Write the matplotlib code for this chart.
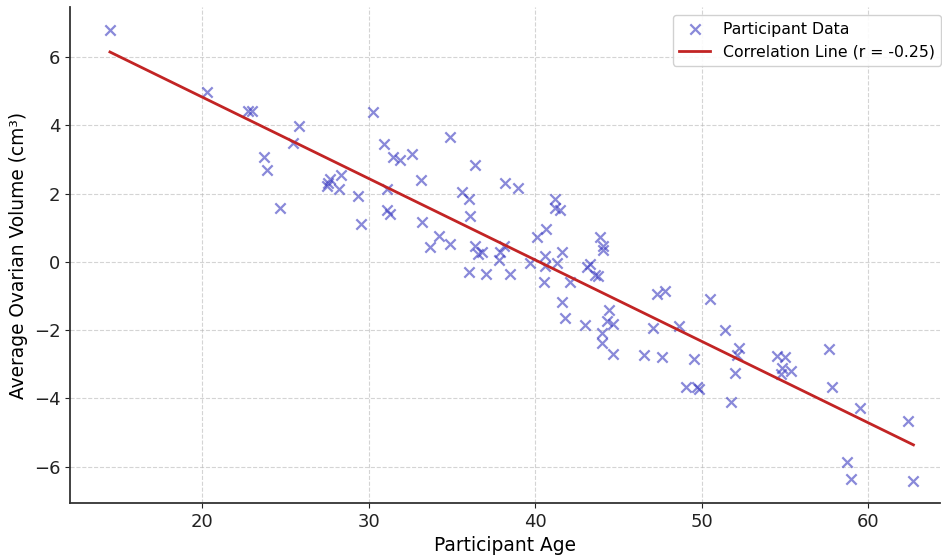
import matplotlib
matplotlib.use("Agg")
import matplotlib.pyplot as plt
import numpy as np

# participant data
age = [14.45, 20.26, 22.77, 22.97, 23.71, 23.91, 24.67, 25.47, 25.81, 27.48,
       27.54, 27.68, 28.18, 28.32, 29.32, 29.54, 30.24, 30.92, 31.08, 31.12,
       31.28, 31.48, 31.88, 32.61, 33.13, 33.19, 33.69, 34.23, 34.89, 34.89,
       35.59, 35.99, 36.09, 35.99, 36.39, 36.35, 36.53, 36.80, 37.01, 37.84,
       37.90, 38.10, 38.16, 38.46, 38.94, 39.70, 40.10, 40.66, 40.56, 40.56,
       40.50, 41.20, 41.20, 41.46, 41.60, 41.30, 42.10, 41.60, 41.77, 43.12,
       43.31, 43.61, 43.75, 43.87, 44.07, 44.07, 43.00, 44.45, 44.31, 44.67,
       44.01, 44.01, 44.65, 46.51, 47.07, 47.32, 47.77, 47.62, 48.61, 49.52,
       49.02, 49.72, 49.86, 50.48, 51.38, 52.26, 52.13, 52.02, 51.76, 54.53,
       54.99, 54.83, 55.37, 54.73, 57.63, 57.84, 59.48, 58.70, 58.94, 62.38,
       62.71]
volume = [6.78, 4.97, 4.41, 4.41, 3.07, 2.70, 1.59, 3.48, 3.98, 2.22,
          2.32, 2.44, 2.12, 2.55, 1.93, 1.12, 4.39, 3.45, 2.14, 1.53,
          1.39, 3.06, 2.97, 3.17, 2.39, 1.17, 0.44, 0.75, 0.52, 3.66,
          2.05, 1.83, 1.34, -0.31, 2.83, 0.46, 0.24, 0.29, -0.35, 0.05,
          0.29, 0.46, 2.32, -0.37, 2.16, -0.03, 0.73, 0.95, 0.16, -0.13,
          -0.59, 1.85, 1.59, 1.51, 0.28, -0.03, -0.59, -1.17, -1.65, -0.16,
          -0.05, -0.39, -0.42, 0.73, 0.47, 0.34, -1.86, -1.40, -1.73, -1.83,
          -2.08, -2.37, -2.70, -2.73, -1.95, -0.93, -0.85, -2.78, -1.88, -2.83,
          -3.66, -3.66, -3.71, -1.09, -2.00, -2.52, -2.73, -3.25, -4.09, -2.75,
          -2.80, -3.12, -3.19, -3.27, -2.56, -3.66, -4.28, -5.87, -6.37, -4.66,
          -6.41]
r_value = -0.25

age = np.array(age)
volume = np.array(volume)
slope, intercept = np.polyfit(age, volume, 1)
x_line = np.array([age.min(), age.max()])

fig = plt.figure(figsize=(9.42, 5.55), dpi=100)
ax = fig.add_axes([0.0743, 0.0937, 0.924, 0.893])

ax.scatter(age, volume, marker='x', s=55, color='#3a3ac0', alpha=0.6,
           linewidths=1.6, label='Participant Data')
ax.plot(x_line, slope * x_line + intercept, color='#c22424', linewidth=2,
        label='Correlation Line (r = {:.2f})'.format(r_value))

ax.set_xlim(12.05, 64.33)
ax.set_ylim(-7.06, 7.45)
ax.set_xticks([20, 30, 40, 50, 60])
ax.set_yticks([-6, -4, -2, 0, 2, 4, 6])
ax.grid(True, linestyle='--', color='#b8b8b8', alpha=0.6, linewidth=0.8)
ax.set_axisbelow(True)
ax.spines['top'].set_visible(False)
ax.spines['right'].set_visible(False)
for s in ['left', 'bottom']:
    ax.spines[s].set_linewidth(1.3)
    ax.spines[s].set_color('#333333')
ax.tick_params(labelsize=13, colors='#222222')
ax.set_xlabel('Participant Age', fontsize=13.4)
ax.set_ylabel('Average Ovarian Volume (cm³)', fontsize=13.4)
ax.legend(loc='upper right', fontsize=11.3, framealpha=0.9,
          bbox_to_anchor=(1.01, 1.0))

fig.savefig('out.png', dpi=100)
